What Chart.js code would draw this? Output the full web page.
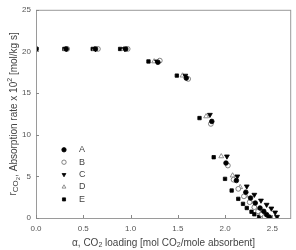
<!DOCTYPE html>
<html><head><meta charset="utf-8">
<script src="https://cdn.jsdelivr.net/npm/chart.js@4/dist/chart.umd.min.js"></script>
<style>html,body{margin:0;padding:0;background:#fff}#wrap{width:296px;height:250px}</style>
</head><body><div id="wrap"><canvas id="c" width="296" height="250"></canvas></div>
<script>
const seriesLabels = ['A','B','C','D','E'];
const xA = [0,0.32,0.63,0.95,1.29,1.59,1.86,2.01,2.12,2.22,2.27,2.32,2.37,2.41,2.44,2.47];
const yA = [20.3,20.3,20.3,20.3,18.7,16.8,11.6,6.6,4.5,3.1,2.4,1.8,1.2,0.8,0.4,0.1];
const xB = [0,0.33,0.655,0.97,1.31,1.61,1.85,2.03,2.09,2.14,2.20,2.26,2.31,2.35,2.39,2.42];
const yB = [20.3,20.3,20.3,20.3,18.9,16.7,11.3,6.3,4.6,3.5,2.6,1.9,1.3,0.8,0.45,0.15];
const xC = [0,0.32,0.63,0.94,1.28,1.58,1.84,2.02,2.13,2.23,2.31,2.38,2.44,2.49,2.53,2.55];
const yC = [20.3,20.3,20.3,20.3,18.8,17.1,12.4,7.4,5.0,3.8,2.8,2.1,1.6,1.15,0.67,0.15];
const xD = [0,0.31,0.62,0.93,1.25,1.55,1.80,1.96,2.08,2.16,2.22,2.27,2.31,2.36,2.40,2.44];
const yD = [20.3,20.3,20.3,20.3,18.8,17.1,12.2,7.4,5.1,3.7,2.7,2.0,1.4,0.9,0.5,0.2];
const xE = [0,0.30,0.60,0.89,1.19,1.49,1.73,1.88,2.0,2.07,2.14,2.19,2.23,2.28,2.31,2.36];
const yE = [20.3,20.3,20.3,20.3,18.8,17.1,12.0,7.3,4.7,3.3,2.3,1.7,1.2,0.75,0.45,0.15];
const xTicks = [0,0.5,1.0,1.5,2.0,2.5];
const yTicks = [0,5,10,15,20,25];

function pts(xs, ys){ return xs.map((x,i)=>({x:x,y:ys[i]})); }
const styles = [
  {pointStyle:'circle', bg:'#000', bd:'#000', rot:0, r:2.3},
  {pointStyle:'circle', bg:'#fff', bd:'#666', rot:0, r:2.4},
  {pointStyle:'triangle', bg:'#000', bd:'#000', rot:180, r:2.8},
  {pointStyle:'triangle', bg:'#fff', bd:'#777', rot:0, r:2.8},
  {pointStyle:'rect', bg:'#000', bd:'#000', rot:0, r:2.4}
];
const allX=[xA,xB,xC,xD,xE], allY=[yA,yB,yC,yD,yE];
const datasets = seriesLabels.map((lab,i)=>({
  label: lab,
  data: pts(allX[i], allY[i]),
  pointStyle: styles[i].pointStyle,
  pointRotation: styles[i].rot,
  backgroundColor: styles[i].bg,
  borderColor: styles[i].bd,
  borderWidth: 0.8,
  pointRadius: styles[i].r,
  showLine: false
}));

const F = 'Liberation Sans, Arial, sans-serif';

const deco = {
  id:'deco',
  afterDraw(chart){
    const ctx = chart.ctx, a = chart.chartArea;
    const xs = chart.scales.x, ys = chart.scales.y;
    ctx.save();
    ctx.strokeStyle = '#9a9a9a'; ctx.lineWidth = 1;
    ctx.strokeRect(a.left+0.5, a.top+0.5, a.right-a.left-1, a.bottom-a.top);
    ctx.strokeStyle = '#888';
    ctx.beginPath();
    xTicks.forEach(v=>{ const p=Math.round(xs.getPixelForValue(v))+0.5; ctx.moveTo(p,a.bottom); ctx.lineTo(p,a.bottom-3); });
    yTicks.forEach(v=>{ const p=Math.round(ys.getPixelForValue(v))+0.5; ctx.moveTo(a.left,p); ctx.lineTo(a.left+3,p); });
    ctx.stroke();
    chart.data.datasets.forEach((ds,i)=>{
      const cx = a.left+28, cy = a.top+140+i*12.4;
      ctx.fillStyle = ds.backgroundColor; ctx.strokeStyle = ds.borderColor; ctx.lineWidth = 0.8;
      Chart.helpers.drawPoint(ctx, {pointStyle: ds.pointStyle, rotation: ds.pointRotation, radius: 2.2, borderWidth: 0.8}, cx, cy);
      ctx.fillStyle = '#444'; ctx.font = '9px '+F; ctx.textBaseline='middle'; ctx.textAlign='left';
      ctx.fillText(ds.label, a.left+43, cy);
    });
    ctx.fillStyle = '#444';
    const xparts = [['α, CO',10,0],['2',7,2],[' loading [mol CO',10,0],['2',7,2],['/mole absorbent]',10,0]];
    drawParts(ctx, xparts, (a.left+a.right)/2, 243, 0);
    const yparts = [['r',10,-1],['CO',8,2],['2',6,4],[', Absorption rate x 10',10,0],['2',7,-4],[' [mol/kg s]',10,0]];
    drawParts(ctx, yparts, 14, (a.top+a.bottom)/2, -Math.PI/2);
    ctx.restore();
  }
};
function drawParts(ctx, parts, cx, cy, rot){
  let w=0; parts.forEach(p=>{ctx.font=p[1]+'px '+F; w+=ctx.measureText(p[0]).width;});
  ctx.save(); ctx.translate(cx,cy); ctx.rotate(rot);
  let x=-w/2;
  ctx.textAlign='left'; ctx.textBaseline='middle';
  parts.forEach(p=>{ctx.font=p[1]+'px '+F; ctx.fillText(p[0], x, p[2]); x+=ctx.measureText(p[0]).width;});
  ctx.restore();
}

new Chart(document.getElementById('c'), {
  type:'scatter',
  data:{datasets},
  plugins:[deco],
  options:{
    responsive:false, animation:false, devicePixelRatio:1,
    layout:{padding:{top:7,right:4,left:0,bottom:0}},
    plugins:{legend:{display:false}, tooltip:{enabled:false}},
    scales:{
      x:{type:'linear', min:0, max:2.7,
        afterFit(s){s.height=32;},
        afterBuildTicks(s){s.ticks = xTicks.map(v=>({value:v}));},
        grid:{display:false, drawTicks:false},
        border:{display:false},
        ticks:{padding:6, color:'#555', font:{family:F,size:8}, callback:v=>Number(v).toFixed(1), maxRotation:0}
      },
      y:{type:'linear', min:0, max:25,
        afterFit(s){s.width=36;},
        afterBuildTicks(s){s.ticks = yTicks.map(v=>({value:v}));},
        grid:{display:false, drawTicks:false},
        border:{display:false},
        ticks:{padding:5, color:'#555', font:{family:F,size:8}, callback:v=>String(v)}
      }
    }
  }
});
</script></body></html>
